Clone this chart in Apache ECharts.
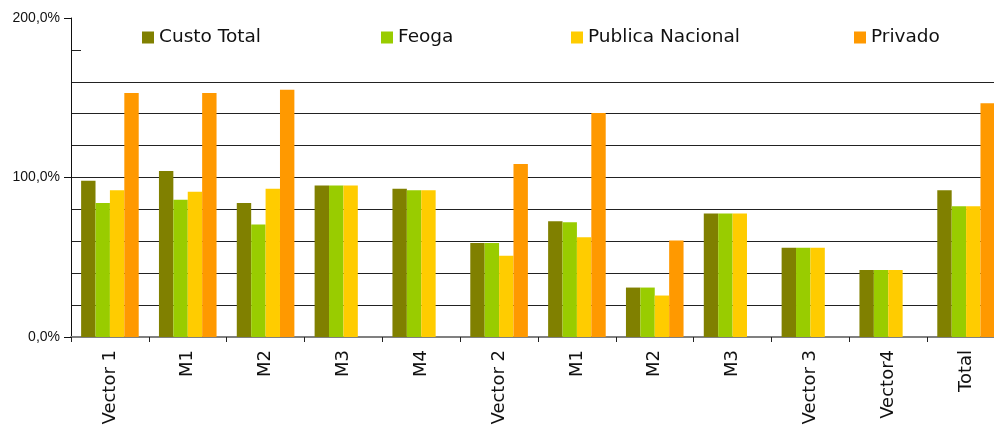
<!DOCTYPE html>
<html>
<head>
<meta charset="utf-8">
<script src="https://cdn.jsdelivr.net/npm/echarts@6/dist/echarts.min.js"></script>
<style>
	html, body { margin: 0; padding: 0; background: #fff; }
	#chart { width: 994px; height: 428px; }
</style>
</head>
<body>
<div id="chart"></div>
<script>
	// values (percent)
	var categories = ['Vector 1', 'M1', 'M2', 'M3', 'M4', 'Vector 2', 'M1', 'M2', 'M3', 'Vector 3', 'Vector4', 'Total'];
	var custoTotal = [98, 104, 84, 95, 93, 59, 72.5, 31, 77.5, 56, 42, 92];
	var feoga = [84, 86, 70.5, 95, 92, 59, 72, 31, 77.5, 56, 42, 82];
	var publicaNacional = [92, 91, 93, 95, 92, 51, 62.5, 26, 77.5, 56, 42, 82];
	var privado = [153, 153, 155, null, null, 108.5, 140.5, 60.5, null, null, null, 146.5];

	var seriesNames = ['Custo Total', 'Feoga', 'Publica Nacional', 'Privado'];
	var colors = ['#808000', '#99cc00', '#ffcc00', '#ff9900'];
	var legendLeft = [142, 381, 571, 854];

	var chart = echarts.init(document.getElementById('chart'));

	var legends = [];
	for (var i = 0; i < seriesNames.length; i++) {
		legends.push({
			data: [seriesNames[i]],
			left: legendLeft[i],
			top: 28,
			padding: 0,
			z: 10,
			icon: 'rect',
			itemWidth: 12,
			itemHeight: 12,
			itemGap: 5,
			selectedMode: false,
			textStyle: { fontFamily: 'DejaVu Sans', fontSize: 18.5, color: '#111', lineHeight: 18, padding: [0, 0, 0, 0] }
		});
	}

	function bar(name, data, color) {
		return {
			name: name, type: 'bar', yAxisIndex: 0,
			data: data,
			barGap: 0, barCategoryGap: '26%',
			itemStyle: { color: color },
			animation: false
		};
	}

	var option = {
		animation: false,
		color: colors,
		legend: legends,
		graphic: [{
			type: 'rect', z: 5,
			shape: { x: 81, y: 40, width: 913, height: 22 },
			style: { fill: '#fff' }
		}],
		grid: { left: 71, top: 18, bottom: 91, width: 934, containLabel: false, outerBoundsMode: 'none' },
		xAxis: {
			type: 'category',
			data: categories,
			axisLine: { lineStyle: { color: '#808080', width: 2 } },
			axisTick: { show: true, alignWithLabel: false, length: 5, lineStyle: { color: '#222' } },
			axisLabel: {
				rotate: 90, interval: 0, margin: 13,
				fontFamily: 'DejaVu Sans', fontSize: 18, color: '#111'
			}
		},
		yAxis: [
			{
				type: 'value', min: 0, max: 200, interval: 20,
				axisLine: { show: false },
				axisTick: { show: false },
				axisLabel: { show: false },
				splitLine: { show: true, showMaxLine: false, lineStyle: { color: '#222', width: 1 } }
			},
			{
				type: 'value', min: 0, max: 200, interval: 100, position: 'left',
				axisLine: { show: true, lineStyle: { color: '#111', width: 1 } },
				axisTick: { show: true, length: 7, lineStyle: { color: '#111' } },
				splitLine: { show: false },
				axisLabel: {
					margin: 11,
					fontFamily: 'Liberation Sans', fontSize: 14, color: '#111',
					formatter: function (v) { return v.toFixed(1).replace('.', ',') + '%'; }
				}
			}
		],
		series: [
			bar(seriesNames[0], custoTotal, colors[0]),
			bar(seriesNames[1], feoga, colors[1]),
			bar(seriesNames[2], publicaNacional, colors[2]),
			bar(seriesNames[3], privado, colors[3])
		]
	};
	chart.setOption(option);
</script>
</body>
</html>
